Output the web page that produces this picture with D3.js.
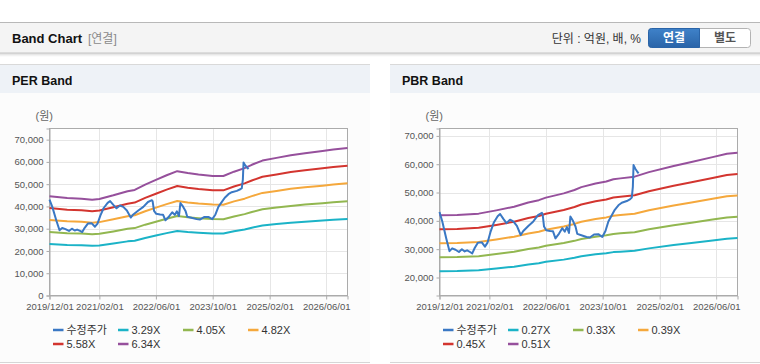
<!DOCTYPE html>
<html><head><meta charset="utf-8">
<script src="https://cdn.jsdelivr.net/npm/d3@7"></script>
<style>
body{margin:0;background:#fff;}
svg{display:block;font-family:"Liberation Sans",Arial,"Noto Sans CJK KR",sans-serif;}
</style>
</head><body>
<svg id="c" width="760" height="364"></svg>
<script>
// ---------------- DATA ----------------
const xTickLabels = ["2019/12/01","2021/02/01","2022/06/01","2023/10/01","2025/02/01","2026/06/01"];
const xDomain = ["2019-12-01","2026-12-01"];
const perYTicks = [0,10000,20000,30000,40000,50000,60000,70000];
const pbrYTicks = [20000,30000,40000,50000,60000,70000];
const perYDomain = [0,75000];
const pbrYDomain = [13640,72610];

// adjusted stock price (수정주가)
const priceDates = ["2019-12-01","2019-12-25","2020-01-28","2020-02-25","2020-03-19","2020-04-16","2020-05-16","2020-06-10","2020-07-04","2020-07-25","2020-08-19","2020-09-07","2020-09-28","2020-10-25","2020-11-28","2020-12-25","2021-01-16","2021-02-10","2021-03-10","2021-04-13","2021-05-04","2021-06-01","2021-06-28","2021-07-28","2021-08-25","2021-09-25","2021-10-28","2021-11-19","2022-01-01","2022-02-13","2022-03-25","2022-04-28","2022-05-04","2022-05-16","2022-06-04","2022-07-07","2022-08-01","2022-08-22","2022-09-22","2022-10-19","2022-11-10","2022-11-28","2022-12-16","2022-12-28","2023-01-19","2023-02-10","2023-02-25","2023-04-01","2023-05-16","2023-06-13","2023-07-19","2023-08-25","2023-09-28","2023-10-25","2023-11-19","2023-12-16","2024-01-13","2024-02-13","2024-03-13","2024-04-25","2024-05-25","2024-06-07","2024-06-16","2024-06-22","2024-07-07","2024-07-22","2024-08-04"];
const priceValues = [43100,39800,33800,29300,30300,29800,29000,30000,29200,29600,29000,28500,30400,32300,32400,30900,32300,36000,39300,41600,42400,40700,39200,40400,39800,38200,35000,36400,38200,39800,42000,42800,42300,38000,36700,36400,36300,33800,35500,37400,36200,37800,35700,41500,40000,38000,35400,34900,34300,34100,35200,35300,34300,36400,39800,41800,43900,45500,46400,47000,47700,48200,52000,59700,58400,57500,56800];

// PER band lines
const perBandDates = ["2019-12-01","2020-05-01","2020-09-01","2020-12-01","2021-02-01","2021-06-01","2021-10-01","2021-12-01","2022-03-01","2022-06-01","2022-09-01","2022-12-01","2023-03-01","2023-06-01","2023-10-01","2024-01-01","2024-04-01","2024-07-01","2024-09-01","2024-12-01","2025-04-01","2025-08-01","2025-12-01","2026-05-01","2026-08-01","2026-12-01"];
const per329 = [23140,22730,22570,22310,22500,23350,24310,24600,25840,26930,28020,28980,28540,28200,27870,27840,28850,29680,30460,31450,32070,32690,33160,33680,34020,34380];
const per405 = [28490,27980,27790,27470,27690,28750,29930,30280,31810,33150,34500,35680,35130,34720,34300,34270,35520,36540,37500,38710,39480,40240,40820,41460,41870,42320];
const per482 = [33910,33300,33070,32690,32960,34210,35620,36040,37860,39460,41050,42460,41810,41320,40830,40790,42270,43490,44630,46070,46980,47900,48580,49340,49830,50370];
const per558 = [39250,38550,38290,37850,38150,39610,41230,41720,43830,45680,47530,49160,48410,47840,47260,47220,48940,50340,51660,53340,54390,55450,56240,57120,57690,58310];
const per634 = [44600,43800,43500,43000,43350,45000,46850,47400,49800,51900,54000,55850,55000,54350,53700,53650,55600,57200,58700,60600,61800,63000,63900,64900,65550,66250];
const perLabels = ["수정주가","3.29X","4.05X","4.82X","5.58X","6.34X"];

// PBR band lines
const pbrBandDates = ["2019-12-01","2020-05-01","2020-11-01","2021-04-01","2021-09-01","2022-01-01","2022-04-01","2022-06-01","2022-11-01","2023-02-01","2023-04-01","2023-08-01","2023-11-01","2024-01-01","2024-03-01","2024-07-01","2024-11-01","2025-06-01","2025-11-01","2026-05-01","2026-09-01","2026-12-01"];
const pbr027 = [22240,22260,22530,23140,23820,24620,25040,25520,26310,26950,27480,28170,28540,28960,29120,29440,30280,31450,32160,33090,33720,33910];
const pbr033 = [27180,27210,27530,28280,29120,30090,30610,31190,32160,32940,33580,34420,34880,35390,35590,35980,37010,38440,39310,40440,41220,41440];
const pbr039 = [32120,32160,32540,33420,34410,35560,36170,36860,38010,38920,39690,40680,41220,41830,42060,42520,43740,45420,46460,47790,48710,48980];
const pbr045 = [37060,37100,37540,38560,39710,41030,41740,42530,43850,44910,45790,46940,47560,48270,48530,49060,50470,52410,53600,55150,56210,56520];
const pbr051 = [42000,42050,42550,43700,45000,46500,47300,48200,49700,50900,51900,53200,53900,54700,55000,55600,57200,59400,60750,62500,63700,64050];
const pbrLabels = ["수정주가","0.27X","0.33X","0.39X","0.45X","0.51X"];

const seriesColors = ["#3a78c4","#1bb3c7","#92b750","#f5a83c","#d3352f","#96509c"];

// ---------------- DRAW ----------------
const svg = d3.select("#c");
const parse = d3.timeParse("%Y-%m-%d");
const parseTick = d3.timeParse("%Y/%m/%d");

// top header
svg.append("rect").attr("x",0).attr("y",22).attr("width",760).attr("height",1).attr("fill","#b8b8b8");
svg.append("rect").attr("x",0).attr("y",23).attr("width",760).attr("height",30).attr("fill","#f4f4f4");
svg.append("rect").attr("x",0).attr("y",52.5).attr("width",760).attr("height",1).attr("fill","#c4c4c4");
[0.12,0.07,0.03].forEach((o,i)=>svg.append("rect").attr("x",0).attr("y",53.5+i).attr("width",760).attr("height",1).attr("fill","#000").attr("opacity",o));
svg.append("text").attr("x",12).attr("y",43).attr("font-size","13px").attr("font-weight","bold").attr("fill","#111").text("Band Chart");
svg.append("text").attr("x",88).attr("y",43).attr("font-size","12px").attr("fill","#8a8a8a").text("[연결]");
svg.append("text").attr("x",641).attr("y",43).attr("text-anchor","end").attr("font-size","12px").attr("fill","#333").text("단위 : 억원, 배, %");

// toggle buttons
const defs = svg.append("defs");
const g1 = defs.append("linearGradient").attr("id","btnBlue").attr("x1",0).attr("y1",0).attr("x2",0).attr("y2",1);
g1.append("stop").attr("offset","0%").attr("stop-color","#3f82c9");
g1.append("stop").attr("offset","100%").attr("stop-color","#2a64a8");
svg.append("rect").attr("x",648.5).attr("y",28.5).attr("width",102).attr("height",19).attr("rx",3).attr("fill","#fff").attr("stroke","#b3b3b3");
svg.append("path").attr("d","M699.5,28.5 H651.5 Q648.5,28.5 648.5,31.5 V44.5 Q648.5,47.5 651.5,47.5 H699.5 Z").attr("fill","url(#btnBlue)").attr("stroke","#2a64a8");
svg.append("text").attr("x",674).attr("y",42).attr("text-anchor","middle").attr("font-size","12px").attr("font-weight","bold").attr("fill","#fff").text("연결");
svg.append("text").attr("x",725).attr("y",42).attr("text-anchor","middle").attr("font-size","12px").attr("font-weight","bold").attr("fill","#555").text("별도");

function drawPanel(cfg){
  const px = cfg.panelX, pw = cfg.panelW;
  svg.append("rect").attr("x",px).attr("y",64).attr("width",pw).attr("height",1).attr("fill","#d9d9d9");
  svg.append("rect").attr("x",px).attr("y",65).attr("width",pw).attr("height",28).attr("fill","#eef2f7");
  svg.append("rect").attr("x",px).attr("y",93).attr("width",pw).attr("height",269).attr("fill","#fcfcfc");
  svg.append("rect").attr("x",px).attr("y",362).attr("width",pw).attr("height",1).attr("fill","#d6d6d6");
  svg.append("text").attr("x",px+12).attr("y",85).attr("font-size","12.5px").attr("font-weight","bold").attr("fill","#111").text(cfg.title);

  const L = cfg.left, R = cfg.left+298, T = 128.5, B = 295.5;
  const x = d3.scaleTime().domain(xDomain.map(parse)).range([L,R]);
  const y = d3.scaleLinear().domain(cfg.yDomain).range([B,T]);
  const tickDates = xTickLabels.map(parseTick);

  svg.append("text").attr("x",L-14).attr("y",120).attr("font-size","11px").attr("fill","#666").text("(원)");

  svg.append("rect").attr("x",L).attr("y",T).attr("width",R-L).attr("height",B-T).attr("fill","#fff");
  const grid = svg.append("g");
  cfg.yTicks.forEach(v=>{ if (y(v) < B-0.5) grid.append("line").attr("x1",L).attr("x2",R).attr("y1",Math.round(y(v))+0.5).attr("y2",Math.round(y(v))+0.5).attr("stroke","#e6e6e6"); });
  tickDates.slice(1).forEach(d=>grid.append("line").attr("x1",Math.round(x(d))+0.5).attr("x2",Math.round(x(d))+0.5).attr("y1",T).attr("y2",B).attr("stroke","#e6e6e6"));
  svg.append("rect").attr("x",L).attr("y",T).attr("width",R-L).attr("height",B-T).attr("fill","none").attr("stroke","#ababab");

  const xa = svg.append("g").attr("transform",`translate(0,${B})`)
    .call(d3.axisBottom(x).tickValues(tickDates).tickFormat(d3.timeFormat("%Y/%m/%d")).tickSize(4).tickPadding(4));
  const ya = svg.append("g").attr("transform",`translate(${L},0)`)
    .call(d3.axisLeft(y).tickValues(cfg.yTicks).tickFormat(d3.format(",")).tickSize(3).tickPadding(3));
  [xa,ya].forEach(a=>{
    a.select(".domain").attr("stroke","#ababab");
    a.selectAll(".tick line").attr("stroke","#ababab");
    a.selectAll(".tick text").attr("fill","#555").attr("font-size","9.5px").attr("font-family",'"Liberation Sans",Arial,sans-serif');
  });

  const line = d3.line().x(d=>x(d[0])).y(d=>y(d[1]));
  const bandDates = cfg.bandDates.map(parse);
  cfg.bands.forEach((vals,i)=>{
    svg.append("path").datum(bandDates.map((d,k)=>[d,vals[k]]))
      .attr("d",line).attr("fill","none").attr("stroke",seriesColors[i+1]).attr("stroke-width",2).attr("stroke-linejoin","round");
  });
  svg.append("path").datum(priceDates.map((d,k)=>[parse(d),priceValues[k]]))
    .attr("d",line).attr("fill","none").attr("stroke",seriesColors[0]).attr("stroke-width",2).attr("stroke-linejoin","round");

  // legend
  cfg.labels.forEach((lab,i)=>{
    const col = i % 4, row = Math.floor(i/4);
    const lx = L + 3.5 + col*65, ly = 330 + row*14;
    svg.append("line").attr("x1",lx).attr("x2",lx+10.5).attr("y1",ly).attr("y2",ly).attr("stroke",seriesColors[i]).attr("stroke-width",2.5);
    svg.append("text").attr("x",lx+13.5).attr("y",ly).attr("dy","0.36em").attr("font-size","11px").attr("fill","#333").text(lab);
  });
}

drawPanel({panelX:0,panelW:370,title:"PER Band",left:49.5,yDomain:perYDomain,yTicks:perYTicks,
  bandDates:perBandDates,bands:[per329,per405,per482,per558,per634],labels:perLabels});
drawPanel({panelX:390,panelW:370,title:"PBR Band",left:439.5,yDomain:pbrYDomain,yTicks:pbrYTicks,
  bandDates:pbrBandDates,bands:[pbr027,pbr033,pbr039,pbr045,pbr051],labels:pbrLabels});
</script>
</body></html>
